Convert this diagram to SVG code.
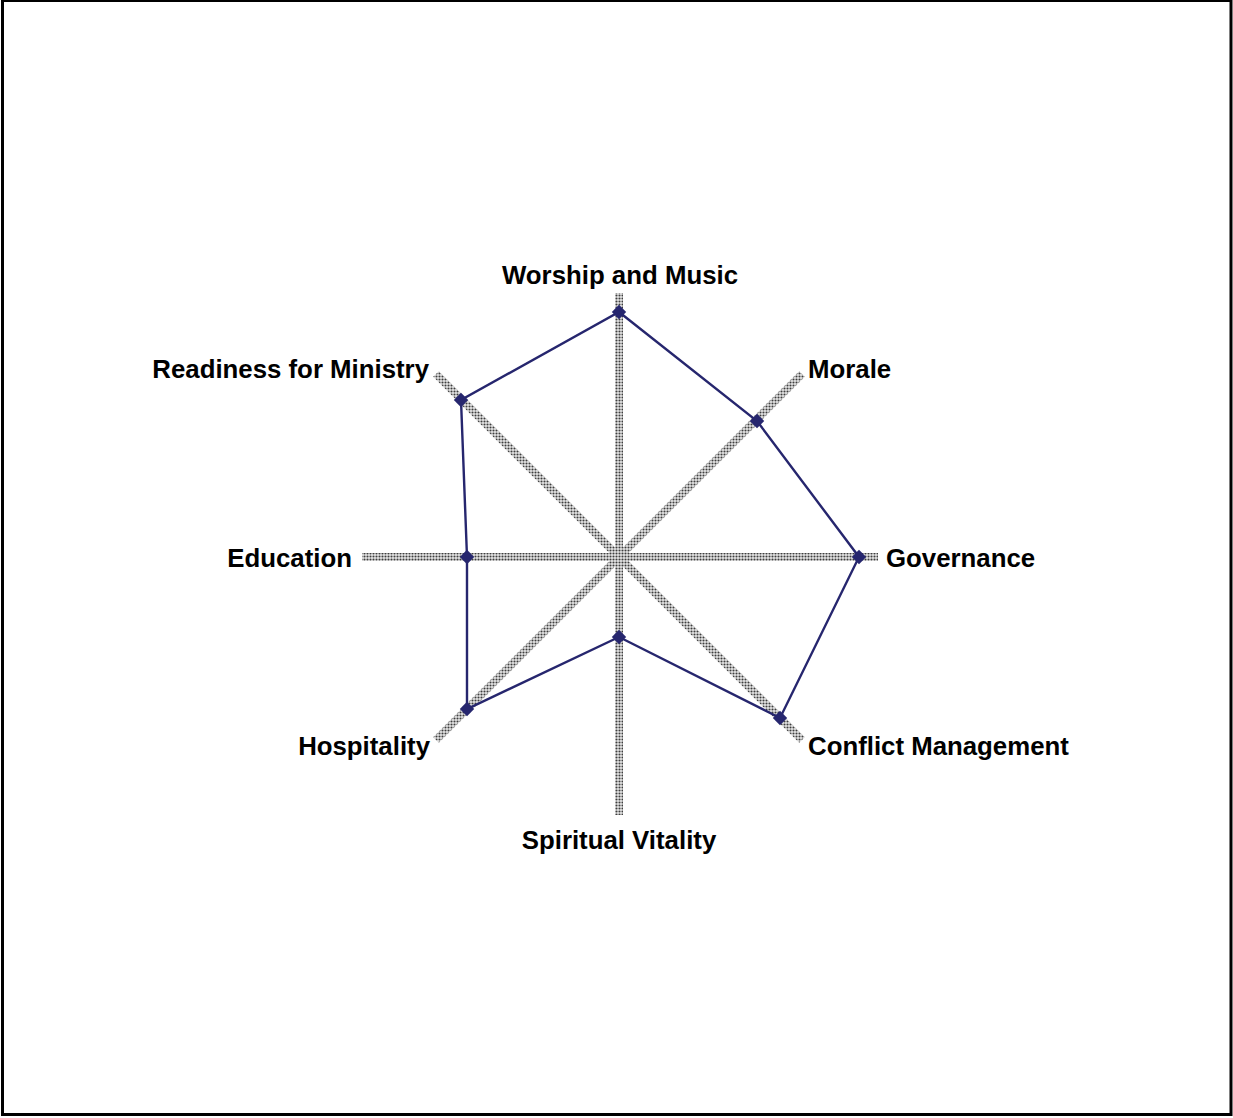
<svg xmlns="http://www.w3.org/2000/svg" width="1233" height="1118" viewBox="0 0 1233 1118">
<defs>
<pattern id="dots" width="3" height="3" patternUnits="userSpaceOnUse">
<rect width="3" height="3" fill="#e6e6e6"/>
<circle cx="1.5" cy="1.5" r="1.05" fill="#3e3e3e"/>
</pattern>
<marker id="dia" viewBox="-8 -8 16 16" markerWidth="16" markerHeight="16" refX="0" refY="0" markerUnits="userSpaceOnUse">
<path d="M0,-7.2 L7.2,0 L0,7.2 L-7.2,0 Z" fill="#26266e"/>
</marker>
<style>
.axis{stroke:url(#dots);stroke-width:8;fill:none}
.lbl{font-family:"Liberation Sans",Arial,sans-serif;font-weight:bold;font-size:25.8px;fill:#000}
.series{fill:none;stroke:#26266e;stroke-width:2.4;marker-start:url(#dia);marker-mid:url(#dia)}
</style>
</defs>
<rect x="0" y="0" width="1233" height="1118" fill="#fff"/>
<rect x="2.5" y="0.5" width="1228.5" height="1114" fill="none" stroke="#000" stroke-width="3"/>
<g id="connectors">
<line class="axis" x1="619" y1="557" x2="619" y2="293"/>
<line class="axis" x1="619" y1="557" x2="802" y2="374"/>
<line class="axis" x1="619" y1="557" x2="878" y2="557"/>
<line class="axis" x1="619" y1="557" x2="802" y2="740"/>
<line class="axis" x1="619" y1="557" x2="619" y2="815"/>
<line class="axis" x1="619" y1="557" x2="436" y2="740"/>
<line class="axis" x1="619" y1="557" x2="362" y2="557"/>
<line class="axis" x1="619" y1="557" x2="436" y2="374"/>
<path id="series" class="series" d="M619,312 L757,421 L859,557 L780,718 L619,637 L467,709 L467,557 L461,400 Z"/>
</g>
<g id="node-worship"><text class="lbl" x="620" y="284" text-anchor="middle">Worship and Music</text></g>
<g id="node-morale"><text class="lbl" x="808" y="378">Morale</text></g>
<g id="node-governance"><text class="lbl" x="886" y="567">Governance</text></g>
<g id="node-conflict"><text class="lbl" x="808" y="755">Conflict Management</text></g>
<g id="node-spiritual"><text class="lbl" x="619" y="849" text-anchor="middle">Spiritual Vitality</text></g>
<g id="node-hospitality"><text class="lbl" x="430" y="755" text-anchor="end">Hospitality</text></g>
<g id="node-education"><text class="lbl" x="352" y="567" text-anchor="end">Education</text></g>
<g id="node-readiness"><text class="lbl" x="429" y="378" text-anchor="end">Readiness for Ministry</text></g>
</svg>
